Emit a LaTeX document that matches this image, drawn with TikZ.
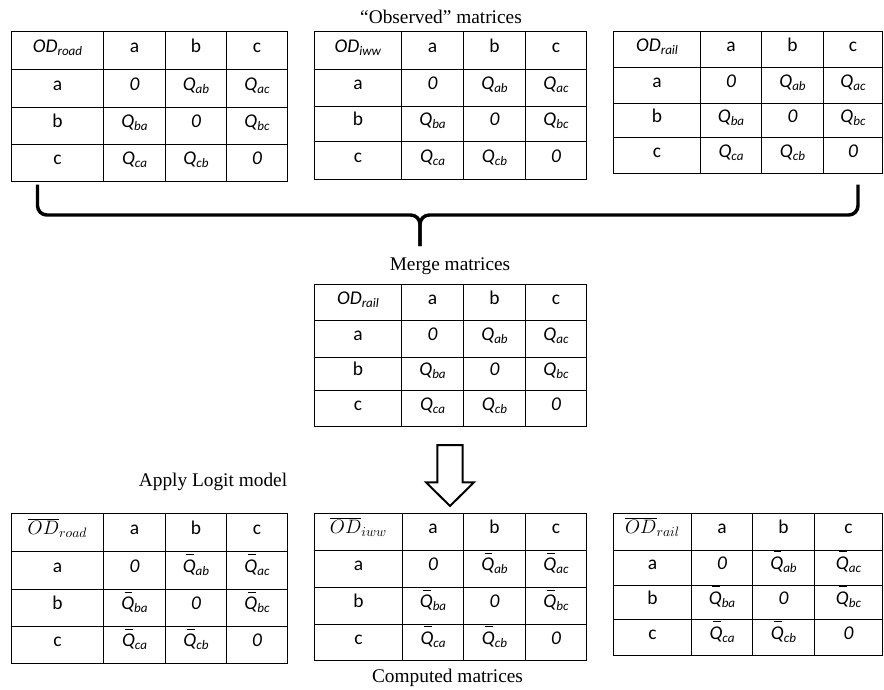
\RequirePackage{fix-cm}
\documentclass[tikz,border=0pt]{standalone}
\usepackage{fontspec}
\setmainfont{Liberation Serif}
\newfontfamily\cellfont{Carlito}

% one unit = one pixel, y grows downwards
\tikzset{
  x=0.75pt, y=-0.75pt,
  gridcell/.style={draw, line width=1.05pt, rectangle, inner sep=0pt, outer sep=0pt, anchor=north west},
  celltext/.style={font=\cellfont\fontsize{14.6}{17}\selectfont, inner sep=0pt, anchor=base},
  caption/.style={font=\fontsize{14.5}{17}\selectfont, inner sep=0pt, anchor=base},
  bracepen/.style={line width=2.6pt, rounded corners=7pt},
  blockarrow/.style={draw, line width=1.5pt, fill=white, line join=miter},
}

% subscripts and matrix entries
\newcommand\odsub[1]{\raisebox{-0.32ex}{\fontsize{9.8}{11}\selectfont\textit{#1}}}
\newcommand\qplain[1]{\textit{Q}\odsub{#1}}
\newcommand\qbar[1]{\makebox[0pt][l]{\kern0.17em\rule[0.9em]{0.4em}{0.6pt}}\textit{Q}\odsub{#1}}
\newcommand\odletter[1]{\ifcase#1\or a\or b\or c\fi}
\newcommand\odentry[2]{%
  \ifnum#1=0 \ifnum#2=0 \odhead\else\odletter{#2}\fi
  \else\ifnum#2=0 \odletter{#1}%
  \else\ifnum#1=#2 \textit{0}\else\odq{\odletter{#1}\odletter{#2}}\fi\fi\fi}

% #1 name, #2 column edges, #3 row edges, #4 header, #5 entry form
\newcommand\odtable[5]{%
  \def\odhead{#4}\let\odq=#5%
  \foreach \ri in {0,...,3}{
    \foreach \ci in {0,...,3}{
      \pgfmathsetmacro\xa{{#2}[\ci]}
      \pgfmathsetmacro\xb{{#2}[\ci+1]}
      \pgfmathsetmacro\ya{{#3}[\ri]}
      \pgfmathsetmacro\yb{{#3}[\ri+1]}
      \pgfmathsetmacro\cw{(\xb-\xa)*0.75}
      \pgfmathsetmacro\ch{(\yb-\ya)*0.75}
      \node[gridcell, minimum width=\cw pt, minimum height=\ch pt] (#1-\ri-\ci) at (\xa,\ya) {};
      \node[celltext] (#1-\ri-\ci-t) at ({(\xa+\xb)/2},{\ya+0.55*(\yb-\ya)}) {\odentry{\ri}{\ci}};
    }
  }
}

\begin{document}
\begin{tikzpicture}
\useasboundingbox[fill=white] (0,0) rectangle (884,689);

% observed matrices
\odtable{road}{11.5,103.5,165.5,226.5,287.5}{31.5,69.5,107.5,144.5,181.5}{\textit{OD}\odsub{road}}{\qplain}
\odtable{iww}{314.5,401.5,463.5,525.5,586.5}{31.5,69.5,106.5,141.5,179.5}{\textit{OD}\odsub{iww}}{\qplain}
\odtable{rail}{613.5,700.5,761.5,823.5,882.5}{31.5,67.5,103.5,137.5,173.5}{\textit{OD}\odsub{rail}}{\qplain}
\node[caption] (observed) at (441,23.3) {“Observed” matrices};

% merge brace
\coordinate (braceL) at (37.5,184.5);
\coordinate (braceR) at (858,184.5);
\coordinate (braceTip) at (420,246);
\draw[bracepen] (braceL) -- (braceL |- 0,215) -- (braceTip |- 0,215) -- (braceTip);
\draw[bracepen] (braceR) -- (braceR |- 0,215) -- (braceTip |- 0,215) -- (braceTip);
\node[caption] (merge) at (450,270) {Merge matrices};

% merged matrix
\odtable{merged}{314.5,401.5,463.5,525.5,586.5}{284.5,320.5,357.5,390.5,426.5}{\textit{OD}\odsub{rail}}{\qplain}

% logit step
\draw[blockarrow] (437.3,445) -- (462.7,445) -- (462.7,482.3) -- (474,482.3)
  -- (450,506) -- (426,482.3) -- (437.3,482.3) -- cycle;
\node[caption] (logit) at (213,486) {Apply Logit model};

% computed matrices
\odtable{croad}{11.5,103.5,165.5,226.5,287.5}{513.5,551.5,589.5,626.5,663.5}{$\overline{OD}_{road}$}{\qbar}
\odtable{ciww}{314.5,402.5,463.5,525.5,586.5}{513.5,550.5,587.5,624.5,660.5}{$\overline{OD}_{iww}$}{\qbar}
\odtable{crail}{613.5,691.5,752.5,814.5,882.5}{513.5,550.5,585.5,619.5,655.5}{$\overline{OD}_{rail}$}{\qbar}
\node[caption] (computed) at (447.5,682) {Computed matrices};
\end{tikzpicture}
\end{document}
